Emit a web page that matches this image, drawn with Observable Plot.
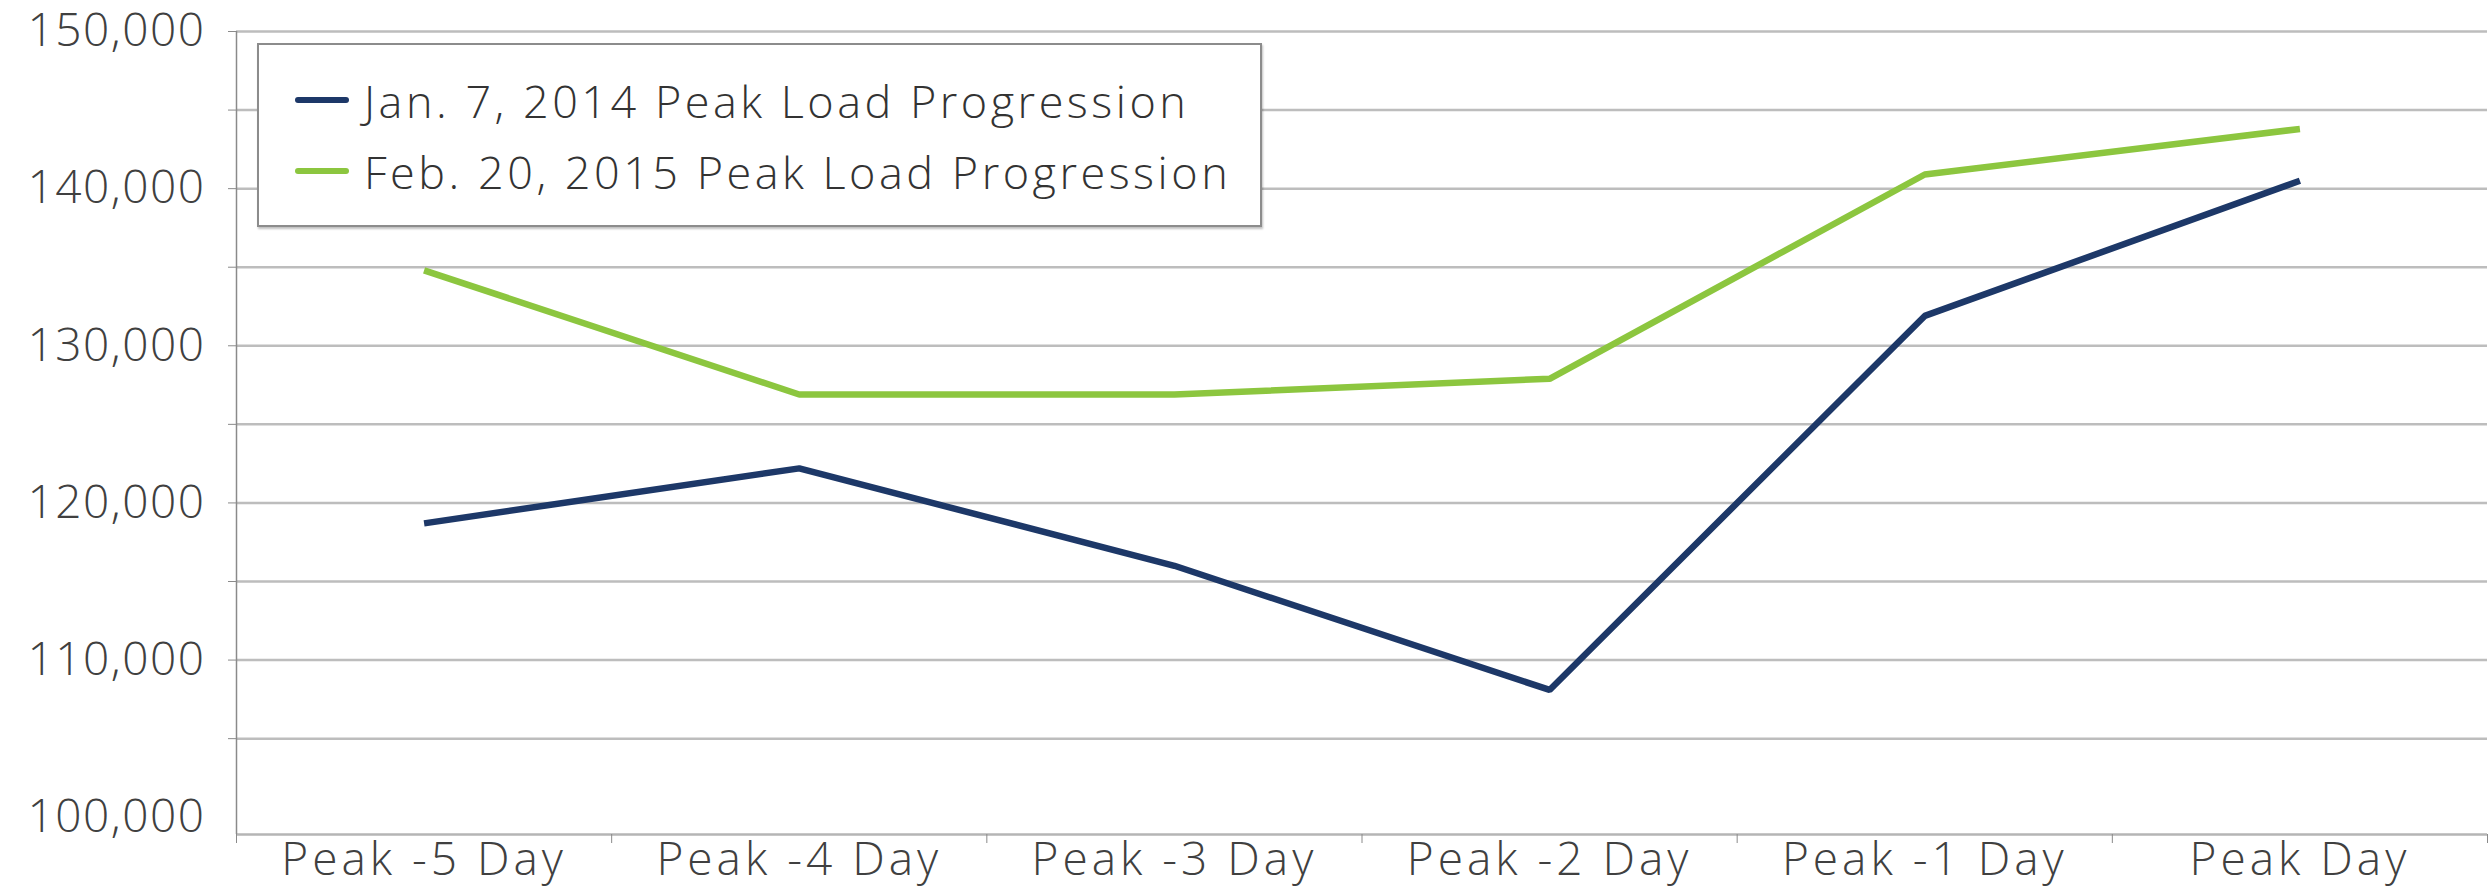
<!DOCTYPE html>
<html>
<head>
<meta charset="utf-8">
<script src="https://cdn.jsdelivr.net/npm/d3@7"></script>
<script src="https://cdn.jsdelivr.net/npm/@observablehq/plot@0.6"></script>
<style>
  html, body { margin: 0; padding: 0; background: #ffffff; }
  #wrap { position: relative; width: 2489px; height: 887px; }
  #legend {
    position: absolute; left: 257px; top: 43px; width: 1001px; height: 180px;
    border: 2px solid #8c8c8c; background: #ffffff;
    box-shadow: 1px 2px 2px rgba(0,0,0,0.25);
    font-family: "Open Sans", sans-serif; font-weight: 300; font-size: 45px; color: #333333;
    letter-spacing: 3.5px;
  }
  .item { position: absolute; left: 36px; display: flex; align-items: center; height: 60px; white-space: nowrap; }
  .sw { width: 54px; height: 6px; border-radius: 3px; margin-right: 15px; }
  g[aria-label="x-axis tick label"] text { letter-spacing: 4px; }
  g[aria-label="y-axis tick label"] text { letter-spacing: 1.5px; }
</style>
</head>
<body>
<div id="wrap"><div id="legend"></div></div>
<script>
const categories = ["Peak -5 Day", "Peak -4 Day", "Peak -3 Day", "Peak -2 Day", "Peak -1 Day", "Peak Day"];
const jan2014 = [118700, 122200, 116000, 108100, 131900, 140500];
const feb2015 = [134800, 126900, 126900, 127900, 140900, 143800];
const seriesNames = ["Jan. 7, 2014 Peak Load Progression", "Feb. 20, 2015 Peak Load Progression"];
const seriesColors = ["#1d3868", "#8cc63f"];
const yLabelTicks = [100000, 110000, 120000, 130000, 140000, 150000];
const yGridTicks = [105000, 110000, 115000, 120000, 125000, 130000, 135000, 140000, 145000, 150000];
const yMin = 98900, yMax = 150000;

const seriesValues = [jan2014, feb2015];
const rows = seriesNames.flatMap((s, k) => categories.map((c, i) => ({i, cat: c, v: seriesValues[k][i], s})));
const idx = d3.range(categories.length);
const boundaries = d3.range(categories.length + 1).map(d => d - 0.5);

const chart = Plot.plot({
  width: 2489, height: 887,
  marginLeft: 236, marginRight: 2, marginTop: 31, marginBottom: 53,
  x: {type: "linear", domain: [-0.5, categories.length - 0.5]},
  y: {domain: [yMin, yMax]},
  color: {domain: seriesNames, range: seriesColors},
  style: {fontFamily: "'Open Sans', sans-serif", fontWeight: 300, fontSize: "46px", color: "#404040", background: "#ffffff", overflow: "visible"},
  marks: [
    Plot.gridY(yGridTicks, {stroke: "#bdbdbd", strokeOpacity: 1, strokeWidth: 2.5}),
    Plot.ruleY([yMin], {stroke: "#b5b5b5", strokeWidth: 2.5}),
    Plot.axisY(yGridTicks, {tickSize: 8, tickFormat: () => "", stroke: "#8a8a8a", label: null}),
    Plot.axisY(yLabelTicks, {tickSize: 0, tickPadding: 31, tickFormat: d3.format(","), label: null}),
    Plot.axisX(boundaries, {tickSize: 9, tickFormat: () => "", stroke: "#8a8a8a", label: null}),
    Plot.axisX(idx, {tickSize: 0, tickPadding: 8, tickFormat: i => categories[i], label: null}),
    Plot.ruleX([-0.5], {stroke: "#8a8a8a", strokeWidth: 1.5}),
    Plot.line(rows, {x: "i", y: "v", z: "s", stroke: "s", strokeWidth: 6.5, strokeLinejoin: "miter", strokeLinecap: "butt"})
  ]
});
document.getElementById("wrap").insertBefore(chart, document.getElementById("legend"));

const legend = document.getElementById("legend");
seriesNames.forEach((name, k) => {
  const it = document.createElement("div");
  it.className = "item";
  it.style.top = (25 + k * 71) + "px";
  const sw = document.createElement("span");
  sw.className = "sw";
  sw.style.background = seriesColors[k];
  const tx = document.createElement("span");
  tx.textContent = name;
  it.appendChild(sw); it.appendChild(tx);
  legend.appendChild(it);
});
</script>
</body>
</html>
